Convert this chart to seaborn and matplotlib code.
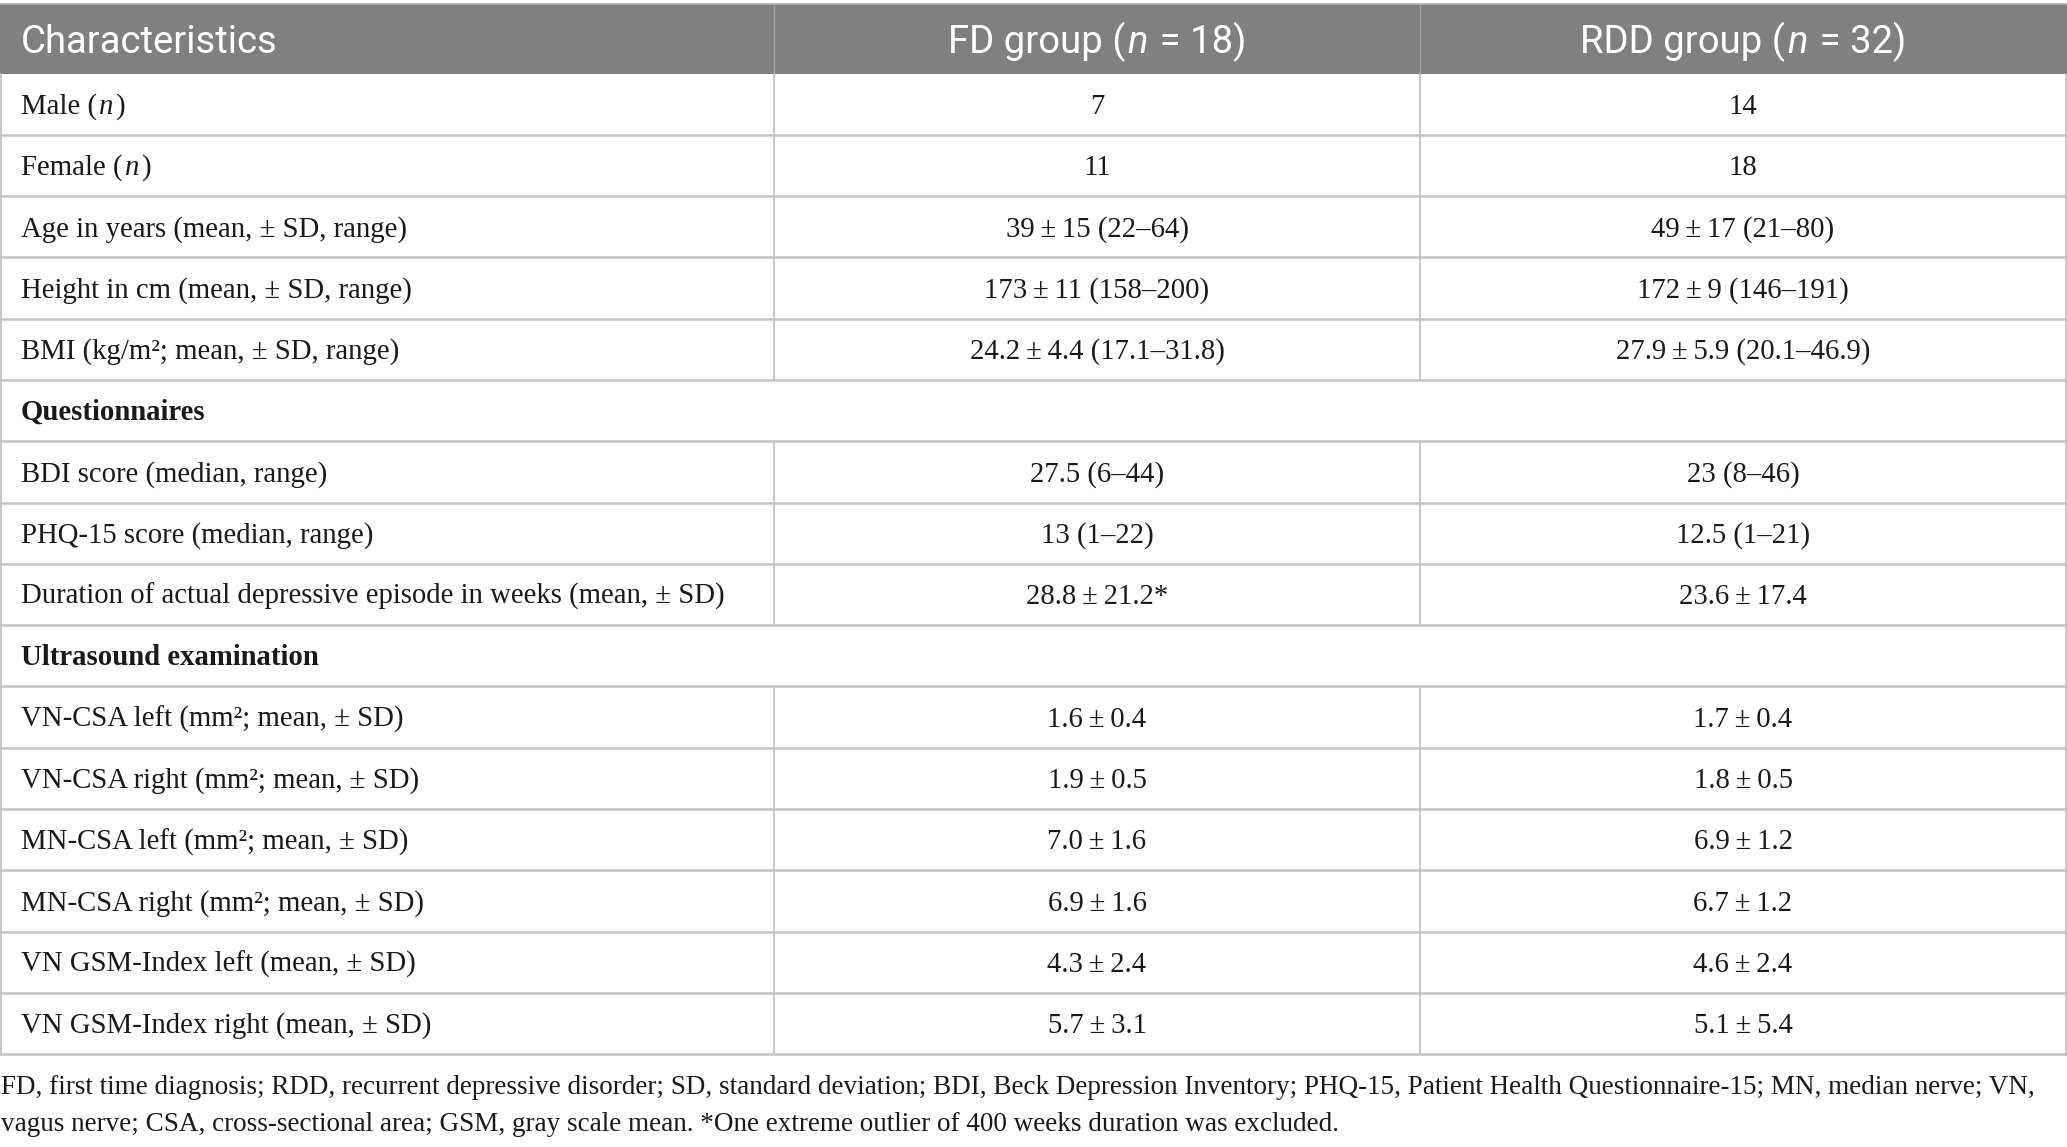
import matplotlib
matplotlib.use("Agg")
import matplotlib.pyplot as plt
from matplotlib.patches import Rectangle
import seaborn as sns

sns.set_theme(style="white")

# ── Table content ─────────────────────────────────────────────────────────────
HEADERS = ["Characteristics", "FD group (_n_ = 18)", "RDD group (_n_ = 32)"]

ROW_LABELS = [
    "Male (_n_)",
    "Female (_n_)",
    "Age in years (mean, ± SD, range)",
    "Height in cm (mean, ± SD, range)",
    "BMI (kg/m²; mean, ± SD, range)",
    "Questionnaires",
    "BDI score (median, range)",
    "PHQ-15 score (median, range)",
    "Duration of actual depressive episode in weeks (mean, ± SD)",
    "Ultrasound examination",
    "VN-CSA left (mm²; mean, ± SD)",
    "VN-CSA right (mm²; mean, ± SD)",
    "MN-CSA left (mm²; mean, ± SD)",
    "MN-CSA right (mm²; mean, ± SD)",
    "VN GSM-Index left (mean, ± SD)",
    "VN GSM-Index right (mean, ± SD)",
]
SECTION_ROWS = ["Questionnaires", "Ultrasound examination"]

PM = "\u2009±\u2009"
FD_VALUES = [
    "7", "11", f"39{PM}15 (22–64)", f"173{PM}11 (158–200)", f"24.2{PM}4.4 (17.1–31.8)",
    None, "27.5 (6–44)", "13 (1–22)", f"28.8{PM}21.2*",
    None, f"1.6{PM}0.4", f"1.9{PM}0.5", f"7.0{PM}1.6", f"6.9{PM}1.6", f"4.3{PM}2.4", f"5.7{PM}3.1",
]
RDD_VALUES = [
    "14", "18", f"49{PM}17 (21–80)", f"172{PM}9 (146–191)", f"27.9{PM}5.9 (20.1–46.9)",
    None, "23 (8–46)", "12.5 (1–21)", f"23.6{PM}17.4",
    None, f"1.7{PM}0.4", f"1.8{PM}0.5", f"6.9{PM}1.2", f"6.7{PM}1.2", f"4.6{PM}2.4", f"5.1{PM}5.4",
]

FOOTNOTE = [
    "FD, first time diagnosis; RDD, recurrent depressive disorder; SD, standard deviation; "
    "BDI, Beck Depression Inventory; PHQ-15, Patient Health Questionnaire-15; MN, median nerve; VN,",
    "vagus nerve; CSA, cross-sectional area; GSM, gray scale mean. "
    "*One extreme outlier of 400 weeks duration was excluded.",
]

# ── Layout (pixels) ───────────────────────────────────────────────────────────
W, H = 2067, 1147
TOP, HEAD_BOTTOM, ROW_H = 4, 73.5, 61.3
COL_X = [0, 774, 1420, 2066]
SERIF = ["Liberation Serif", "DejaVu Serif"]
SANS = ["Roboto", "DejaVu Sans"]
HEAD_FILL = "#7f807f"
LINE = "#c4c4c4"
BODY_FS, HEAD_FS, NOTE_FS = 20.7, 27.5, 19.5

fig = plt.figure(figsize=(W / 100, H / 100), dpi=100)
ax = fig.add_axes([0, 0, 1, 1])
ax.set_xlim(0, W)
ax.set_ylim(H, 0)
ax.axis("off")
renderer = fig.canvas.get_renderer()


def rich_text(x, y, markup, ha="left", **kw):
    """Draw text where _..._ parts are italic; y is the baseline."""
    pieces = [(s, i % 2 == 1) for i, s in enumerate(markup.split("_")) if s]
    arts = [ax.text(0, y, s, ha="left", va="baseline",
                    style="italic" if it else "normal", **kw) for s, it in pieces]
    widths = [a.get_window_extent(renderer).width for a in arts]
    gap = 2.0
    total = sum(widths) + gap * (len(widths) - 1)
    x0 = x - total / 2 if ha == "center" else x
    for a, w in zip(arts, widths):
        a.set_x(x0)
        x0 += w + gap


# header band
ax.add_patch(Rectangle((0, TOP), W, HEAD_BOTTOM - TOP, color=HEAD_FILL, lw=0))
ax.plot([0, W], [TOP, TOP], color="#b0b0b0", lw=1.2)
for cx in COL_X[1:3]:
    ax.plot([cx, cx], [TOP, HEAD_BOTTOM], color="#a3a3a3", lw=1.0)
head_base = (TOP + HEAD_BOTTOM) / 2 + 14.5
rich_text(21, head_base, HEADERS[0], family=SANS, fontsize=HEAD_FS, color="white")
for j, h in enumerate(HEADERS[1:], start=1):
    rich_text((COL_X[j] + COL_X[j + 1]) / 2, head_base, h, ha="center",
              family=SANS, fontsize=HEAD_FS, color="white")

# body rows
n_rows = len(ROW_LABELS)
table_bottom = HEAD_BOTTOM + n_rows * ROW_H
for i, (lab, fd, rdd) in enumerate(zip(ROW_LABELS, FD_VALUES, RDD_VALUES)):
    y0 = HEAD_BOTTOM + i * ROW_H
    base = y0 + ROW_H / 2 + 9.5
    ax.plot([0, W], [y0 + ROW_H, y0 + ROW_H], color=LINE, lw=1.8)
    if lab in SECTION_ROWS:
        rich_text(21, base, lab, family=SERIF, fontsize=BODY_FS, weight="bold", color="#1a1a1a")
        continue
    for cx in COL_X[1:3]:
        ax.plot([cx, cx], [y0, y0 + ROW_H], color=LINE, lw=1.3)
    rich_text(21, base, lab, family=SERIF, fontsize=BODY_FS, color="#1a1a1a")
    for j, val in enumerate([fd, rdd], start=1):
        rich_text((COL_X[j] + COL_X[j + 1]) / 2, base, val, ha="center",
                  family=SERIF, fontsize=BODY_FS, color="#1a1a1a")

for bx in (0.8, W - 1.2):
    ax.plot([bx, bx], [HEAD_BOTTOM, table_bottom], color=LINE, lw=1.3)

# footnote
for k, line in enumerate(FOOTNOTE):
    ax.text(1, 1094 + k * 37, line, ha="left", va="baseline",
            family=SERIF, fontsize=NOTE_FS, color="#1a1a1a")

fig.savefig("out.png", dpi=100)
